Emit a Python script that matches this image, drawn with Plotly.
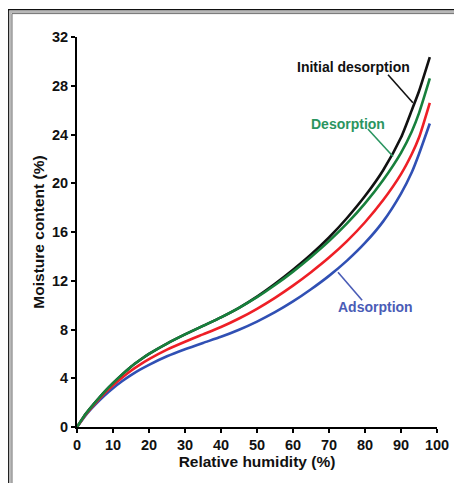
import plotly.graph_objects as go

# ---- data ----
relative_humidity = [0, 2.5, 5, 7.5, 10, 12.5, 15, 17.5, 20, 25, 30, 35, 40, 45, 50, 55, 60, 65, 70, 75, 80, 85, 90, 93, 95, 98]
initial_desorption = [0, 1.1, 2.0, 2.85, 3.6, 4.3, 4.95, 5.5, 6.0, 6.85, 7.6, 8.3, 9.0, 9.78,
                      10.7, 11.75, 12.9, 14.15, 15.55, 17.15, 18.95, 21.05, 23.75, 26.0, 27.55, 30.35]
desorption = [0, 1.1, 2.0, 2.85, 3.6, 4.3, 4.95, 5.5, 6.0, 6.85, 7.6, 8.3, 9.0, 9.78,
              10.65, 11.65, 12.75, 13.95, 15.25, 16.7, 18.35, 20.25, 22.5, 24.25, 25.75, 28.6]
intermediate = [0, 1.05, 1.92, 2.72, 3.42, 4.05, 4.62, 5.12, 5.57, 6.35, 7.0, 7.6, 8.2, 8.9,
                9.7, 10.6, 11.6, 12.7, 13.9, 15.25, 16.8, 18.6, 20.75, 22.4, 23.75, 26.6]
adsorption = [0, 1.0, 1.82, 2.55, 3.18, 3.75, 4.25, 4.7, 5.1, 5.8, 6.38, 6.9, 7.4, 7.98,
              8.65, 9.42, 10.3, 11.3, 12.4, 13.65, 15.1, 16.85, 19.15, 20.9, 22.4, 24.9]

x_ticks = [0, 10, 20, 30, 40, 50, 60, 70, 80, 90, 100]
y_ticks = [0, 4, 8, 12, 16, 20, 24, 28, 32]

BLACK = "#111111"
GREEN = "#17803c"
RED = "#ee1f26"
BLUE = "#3050b4"

OFF = 8  # page body margin
W, H = 462 - OFF, 483 - OFF
ML, MT = 77 - OFF, 37 - OFF
PW, PH = 360, 390
MR = W - ML - PW
MB = H - MT - PH

def px2paper(px, py):
    # page pixel -> paper coords
    fx, fy = px - OFF, py - OFF
    return (fx - ML) / PW, (MT + PH - fy) / PH

fig = go.Figure()
for name, vals, col in [("Initial desorption", initial_desorption, BLACK),
                        ("Adsorption", adsorption, BLUE),
                        ("Intermediate", intermediate, RED),
                        ("Desorption", desorption, GREEN)]:
    fig.add_trace(go.Scatter(x=relative_humidity, y=vals, mode="lines", name=name,
                             line=dict(color=col, width=2.6, shape="spline", smoothing=0.6),
                             showlegend=False, hoverinfo="skip", cliponaxis=False))

font = "Liberation Sans, Arial, sans-serif"

# labels with leader lines
labels = [
    ("Initial desorption", BLACK, 76.7, 29.5, (86.4, 28.9), (93.3, 26.6)),
    ("Desorption", "#2a9560", 75.3, 24.9, (80.8, 24.45), (87.8, 22.2)),
    ("Adsorption", "#4a5cb6", 83.0, 9.85, (72.5, 12.7), (79.2, 10.4)),
]
shapes = []
annotations = []
for text, col, tx, ty, p0, p1 in labels:
    annotations.append(dict(x=tx, y=ty, xref="x", yref="y", text="<b>%s</b>" % text,
                            showarrow=False, font=dict(family=font, size=14, color=col)))
    shapes.append(dict(type="line", xref="x", yref="y", x0=p0[0], y0=p0[1], x1=p1[0], y1=p1[1],
                       line=dict(color=col, width=1.6)))

# picture frame (page pixel positions), running off the right/bottom edges
for (px0, py0, col, wd) in [(8.6, 9.8, "#111111", 1.4), (10.2, 11.8, "#b8b8b8", 2.6), (12.0, 13.6, "#6f6f6f", 1.0)]:
    x0, y0 = px2paper(px0, py0)
    x1, y1 = px2paper(462 + 40, 483 + 40)
    shapes.append(dict(type="rect", xref="paper", yref="paper", x0=x0, y0=y1, x1=x1, y1=y0,
                       line=dict(color=col, width=wd), layer="below"))

fig.update_layout(
    width=W, height=H,
    margin=dict(l=ML, r=MR, t=MT, b=MB, autoexpand=False),
    paper_bgcolor="white", plot_bgcolor="white",
    shapes=shapes, annotations=annotations,
    xaxis=dict(range=[0, 100], tickvals=x_ticks, ticktext=["<b>%d</b>" % v for v in x_ticks],
               automargin=False,
               showgrid=False, zeroline=False, showline=True, linecolor="black", linewidth=1.8,
               ticks="outside", ticklen=4, tickwidth=1.5, tickcolor="black",
               tickfont=dict(family=font, size=14.5, color="#111111"),
               title=dict(text="<b>Relative humidity (%)</b>", standoff=2,
                          font=dict(family=font, size=15.5, color="#111111"))),
    yaxis=dict(range=[0, 32], tickvals=y_ticks, ticktext=["<b>%d</b>" % v for v in y_ticks],
               automargin=False,
               showgrid=False, zeroline=False, showline=True, linecolor="black", linewidth=1.8,
               ticks="outside", ticklen=4, tickwidth=1.5, tickcolor="black",
               tickfont=dict(family=font, size=14.5, color="#111111"),
               title=dict(text="<b>Moisture content (%)</b>", standoff=4,
                          font=dict(family=font, size=15.5, color="#111111"))),
)

fig.write_html("out.html")
